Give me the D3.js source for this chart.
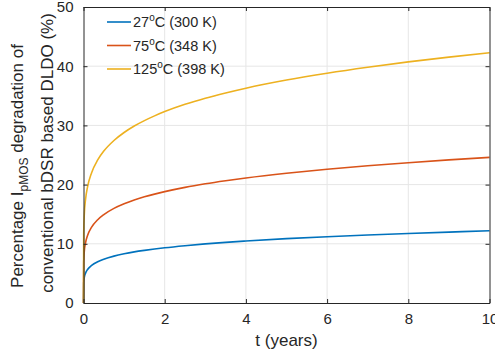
<!DOCTYPE html>
<html>
<head>
<meta charset="utf-8">
<script src="https://cdn.jsdelivr.net/npm/d3@7"></script>
<style>
  body { margin: 0; background: #fff; }
  text { font-family: "Liberation Sans", Arial, Helvetica, sans-serif; fill: #262626; }
</style>
</head>
<body>
<div id="chart"></div>
<script>
// time in years
const tYears = [0, 0.005, 0.02, 0.05, 0.1, 0.2, 0.35, 0.5, 0.75, 1, 1.25, 1.5, 1.75, 2, 2.5, 3, 3.5, 4, 5, 6, 7, 8, 9, 10];
// percentage degradation per temperature
const deg27 = [0, 3.44, 4.33, 5.04, 5.66, 6.35, 6.98, 7.40, 7.92, 8.31, 8.63, 8.89, 9.12, 9.33, 9.68, 9.98, 10.24, 10.47, 10.87, 11.20, 11.49, 11.75, 11.98, 12.20];
const deg75 = [0, 6.93, 8.73, 10.17, 11.42, 12.82, 14.07, 14.93, 15.98, 16.76, 17.40, 17.93, 18.39, 18.81, 19.53, 20.13, 20.65, 21.12, 21.92, 22.59, 23.18, 23.70, 24.17, 24.60];
const deg125 = [0, 11.91, 14.99, 17.48, 19.62, 22.02, 24.17, 25.66, 27.45, 28.80, 29.90, 30.81, 31.61, 32.33, 33.56, 34.59, 35.48, 36.29, 37.66, 38.82, 39.83, 40.73, 41.54, 42.27];
const seriesTemps = ['27', '75', '125'];
const seriesKelvin = ['300', '348', '398'];
const xTicks = [0, 2, 4, 6, 8, 10];
const yTicks = [0, 10, 20, 30, 40, 50];

const width = 495;
const height = 358;
const margin = { top: 7, right: 5.5, bottom: 55, left: 83.5 };
const colors = ['#0072BD', '#D95319', '#EDB120'];

const svg = d3.select('#chart')
  .append('svg')
  .attr('width', width)
  .attr('height', height);

const x = d3.scaleLinear()
  .domain([0, 10])
  .range([margin.left, width - margin.right]);

const y = d3.scaleLinear()
  .domain([0, 50])
  .range([height - margin.bottom, margin.top]);

// grid
const grid = svg.append('g').attr('stroke', '#e6e6e6').attr('stroke-width', 1);
grid.selectAll('.gx')
  .data(xTicks.slice(1, -1))
  .enter().append('line')
  .attr('x1', d => x(d)).attr('x2', d => x(d))
  .attr('y1', y(0)).attr('y2', y(50));
grid.selectAll('.gy')
  .data(yTicks.slice(1, -1))
  .enter().append('line')
  .attr('x1', x(0)).attr('x2', x(10))
  .attr('y1', d => y(d)).attr('y2', d => y(d));

// lines
const series = [deg27, deg75, deg125];
const line = d3.line()
  .x((d, i) => x(tYears[i]))
  .y(d => y(d))
  .curve(d3.curveMonotoneX);

svg.append('g')
  .selectAll('path')
  .data(series)
  .enter()
  .append('path')
  .attr('d', d => line(d))
  .attr('fill', 'none')
  .attr('stroke', (d, i) => colors[i])
  .attr('stroke-width', 1.6);

// axes (box with inward ticks on all sides)
const tickLen = -4;
const axisStyle = g => {
  g.select('.domain').attr('stroke', '#262626').attr('stroke-width', 1);
  g.selectAll('.tick line').attr('stroke', '#262626').attr('stroke-width', 1);
  g.selectAll('.tick text').style('font-size', '15px').attr('fill', '#262626');
};

svg.append('g')
  .attr('transform', `translate(0, ${y(0)})`)
  .call(d3.axisBottom(x).tickValues(xTicks).tickSize(tickLen).tickPadding(10).tickSizeOuter(0))
  .call(axisStyle);

svg.append('g')
  .attr('transform', `translate(0, ${y(50)})`)
  .call(d3.axisTop(x).tickValues(xTicks).tickSize(tickLen).tickFormat('').tickSizeOuter(0))
  .call(axisStyle);

svg.append('g')
  .attr('transform', `translate(${x(0)}, 0)`)
  .call(d3.axisLeft(y).tickValues(yTicks).tickSize(tickLen).tickPadding(10).tickSizeOuter(0))
  .call(axisStyle);

svg.append('g')
  .attr('transform', `translate(${x(10)}, 0)`)
  .call(d3.axisRight(y).tickValues(yTicks).tickSize(tickLen).tickFormat('').tickSizeOuter(0))
  .call(axisStyle);

// x label
svg.append('text')
  .attr('x', (x(0) + x(10)) / 2)
  .attr('y', 346)
  .attr('text-anchor', 'middle')
  .style('font-size', '17px')
  .text('t (years)');

// y label, two lines
const yl1 = svg.append('text')
  .attr('transform', `translate(23, 166) rotate(-90)`)
  .attr('text-anchor', 'middle')
  .style('font-size', '17px');
yl1.append('tspan').text('Percentage I');
yl1.append('tspan').attr('dy', 5).style('font-size', '12px').text('pMOS');
yl1.append('tspan').attr('dy', -5).text(' degradation of');

svg.append('text')
  .attr('transform', `translate(53, 153) rotate(-90)`)
  .attr('text-anchor', 'middle')
  .style('font-size', '17px')
  .text('conventional bDSR based DLDO (%)');

// legend
const legend = svg.append('g');
const rows = legend.selectAll('g')
  .data(seriesTemps)
  .enter()
  .append('g')
  .attr('transform', (d, i) => `translate(107, ${22 + i * 23.5})`);

rows.append('line')
  .attr('x1', 0).attr('x2', 24)
  .attr('stroke', (d, i) => colors[i])
  .attr('stroke-width', 1.6);

const lt = rows.append('text')
  .attr('x', 26)
  .attr('y', 5)
  .style('font-size', '14.5px');
lt.append('tspan').text(d => d);
lt.append('tspan').attr('dy', -6).style('font-size', '10px').text('o');
lt.append('tspan').attr('dy', 6).text((d, i) => `C (${seriesKelvin[i]} K)`);
</script>
</body>
</html>
